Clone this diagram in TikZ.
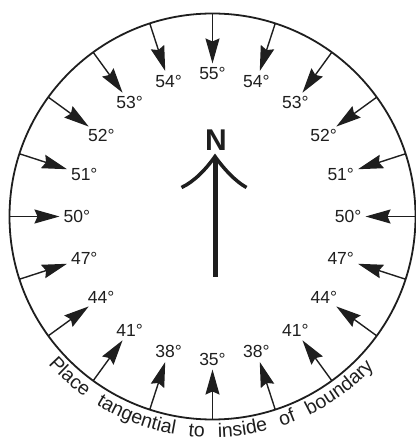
\documentclass[tikz,border=0pt]{standalone}
\usepackage{fontspec}
\setmainfont{Liberation Sans}
\usetikzlibrary{arrows.meta,decorations.text}

\begin{document}
\begin{tikzpicture}[x=1pt, y=1pt,
    tickarrow/.style={line width=1.4pt, draw=inkColour, -{Stealth[length=25pt,width=14pt,inset=3pt]}},
    ticklabel/.style={inner sep=1pt, font=\fontsize{17.5}{17.5}\selectfont, text=inkColour},
    northlabel/.style={inner sep=0pt, font=\fontsize{30}{30}\selectfont\bfseries, text=inkColour}]
    \definecolor{inkColour}{HTML}{1E1E1E}

    \def\radius{203}
    \def\tickLength{50}

    % Fix the page size
    \useasboundingbox (-212.5,-226.5) rectangle (202.5,216.5);

    % Draw boundary
    \draw[inkColour, line width=1.8pt] (0,0) circle (\radius);

    % Arrows and bearings round the boundary
    \foreach \a/\val [count=\i] in {90/55, 108/54, 126/53, 144/52, 162/51, 180/50, 198/47, 216/44, 234/41, 252/38,
                                    270/35, 288/38, 306/41, 324/44, 342/47, 0/50, 18/51, 36/52, 54/53, 72/54} {
        \coordinate (s\i) at (\a:\radius);
        \coordinate (t\i) at (\a:\radius-\tickLength);
        \draw[tickarrow] (s\i) -- (t\i);
        \node[ticklabel, anchor=\a] (lbl\i) at (\a:\radius-\tickLength-3) {\val°};
    }

    % North arrow
    \node[northlabel] (north) at (3.5,76) {N};
    \coordinate (nbase) at (2.5,-60.5);
    \coordinate (napex) at (2.5,60);
    \draw[inkColour, line width=5pt] (nbase) -- ([yshift=-2pt]napex);
    \draw[inkColour, line width=3.5pt, line join=miter]
        (-31,29) .. controls (-18,35) and (-6,48) .. (napex)
        .. controls (11,48) and (23,35) .. (34,29);

    % Instruction along the bottom
    \path[decorate, decoration={text along path,
            text={|\fontsize{19.5}{19.5}\selectfont\color{inkColour}|Place tangential to inside of boundary},
            text align={fit to path stretching spaces}}]
        (222:221) arc[start angle=222, end angle=317, radius=221];

\end{tikzpicture}
\end{document}
